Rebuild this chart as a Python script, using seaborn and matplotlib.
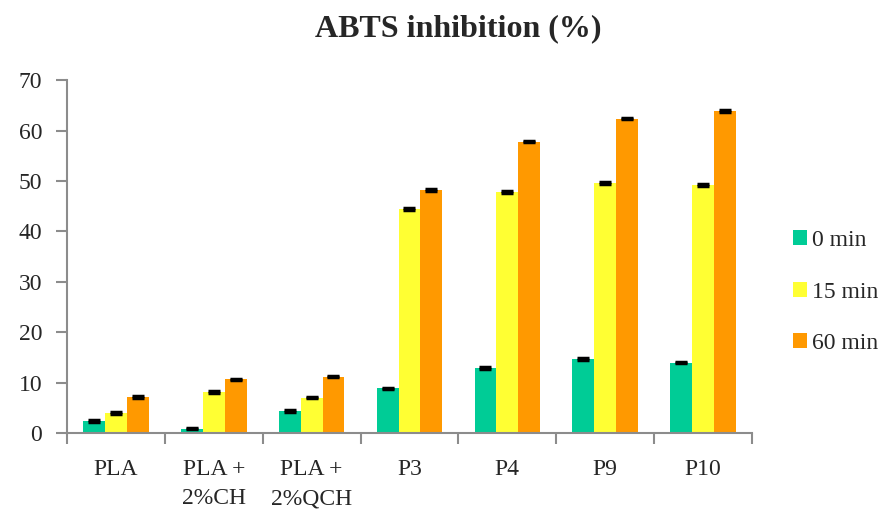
import numpy as np
import pandas as pd
import matplotlib as mpl
from matplotlib import pyplot as plt
import seaborn as sns

categories = ["PLA", "PLA +\n2%CH", "PLA +\n2%QCH", "P3", "P4", "P9", "P10"]
series_names = ["0 min", "15 min", "60 min"]
values_0 = [2.3, 0.8, 4.4, 8.9, 12.9, 14.7, 13.9]
values_15 = [3.9, 8.2, 7.0, 44.4, 47.8, 49.5, 49.2]
values_60 = [7.2, 10.7, 11.2, 48.2, 57.8, 62.3, 63.9]
errors_0 = [0.2, 0.1, 0.2, 0.1, 0.2, 0.2, 0.1]
errors_15 = [0.2, 0.2, 0.1, 0.2, 0.2, 0.2, 0.2]
errors_60 = [0.2, 0.1, 0.1, 0.2, 0.1, 0.1, 0.2]
colors = ["#00CC96", "#FFFF33", "#FF9900"]

sns.set_style("white")
plt.rcParams["font.family"] = ["Liberation Serif", "DejaVu Serif"]

df = pd.DataFrame(
    {
        "category": categories * 3,
        "time": np.repeat(series_names, len(categories)),
        "value": values_0 + values_15 + values_60,
        "err": errors_0 + errors_15 + errors_60,
    }
)

fig = plt.figure(figsize=(8.94, 5.17), dpi=100)
ax = fig.add_axes([0.075, 0.1625, 0.766, 0.6825])

sns.barplot(
    data=df,
    x="category",
    y="value",
    hue="time",
    palette=dict(zip(series_names, colors)),
    width=0.67,
    errorbar=None,
    saturation=1,
    linewidth=0,
    ax=ax,
)

# error bars at the bar tops
for container, name in zip(ax.containers, series_names):
    sub = df[df["time"] == name]
    xs = [p.get_x() + p.get_width() / 2 for p in container.patches]
    ax.errorbar(
        xs,
        sub["value"],
        yerr=sub["err"],
        fmt="none",
        ecolor="black",
        elinewidth=1,
        capsize=4.5,
        capthick=2.5,
    )

ax.set_ylim(0, 70)
ax.set_xlim(-0.5, len(categories) - 0.5)
ax.yaxis.set_major_locator(mpl.ticker.MultipleLocator(10))
ax.set_xlabel("")
ax.set_ylabel("")
fig.text(0.513, 0.945, "ABTS inhibition (%)", fontsize=23, fontweight="bold",
         ha="center", va="center")

for side in ["top", "right"]:
    ax.spines[side].set_visible(False)
for side in ["left", "bottom"]:
    ax.spines[side].set_color("#8c8c8c")
    ax.spines[side].set_linewidth(1.5)

# category separators as ticks below the axis
ax.set_xticks(np.arange(-0.5, len(categories)), minor=True)
ax.tick_params(axis="x", which="major", length=0, labelsize=17, pad=19)
ax.tick_params(axis="x", which="minor", length=8, width=1.5, color="#8c8c8c",
               direction="out", bottom=True)
ax.tick_params(axis="y", length=8, width=1.5, color="#8c8c8c", direction="out",
               left=True, labelsize=17, pad=10)
for lbl in ax.get_xticklabels():
    lbl.set_linespacing(1.5)

leg = ax.legend(
    loc="center left",
    bbox_to_anchor=(0.863, 0.435),
    bbox_transform=fig.transFigure,
    frameon=False,
    fontsize=17,
    handlelength=0.6,
    handleheight=0.6,
    handletextpad=0.2,
    labelspacing=1.3,
)

fig.savefig("out.png", dpi=100)
